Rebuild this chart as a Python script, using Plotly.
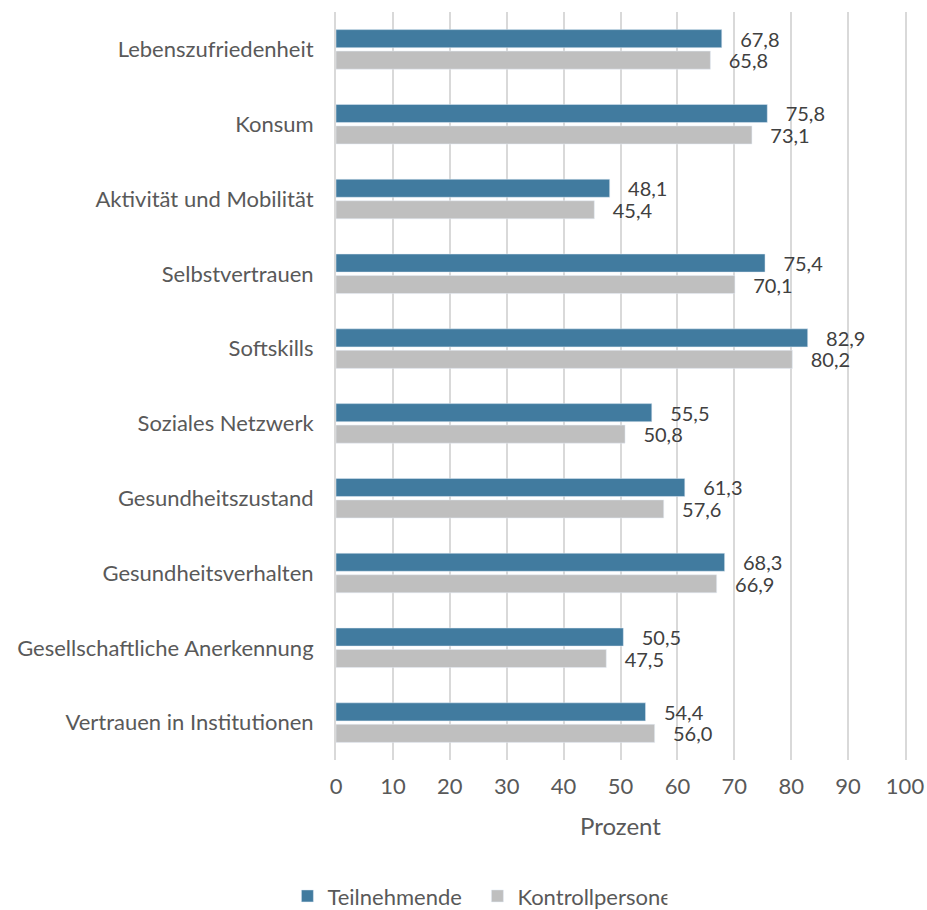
import plotly.graph_objects as go

categories = ["Lebenszufriedenheit", "Konsum", "Aktivität und Mobilität", "Selbstvertrauen",
              "Softskills", "Soziales Netzwerk", "Gesundheitszustand", "Gesundheitsverhalten",
              "Gesellschaftliche Anerkennung", "Vertrauen in Institutionen"]
teilnehmende = [67.8, 75.8, 48.1, 75.4, 82.9, 55.5, 61.3, 68.3, 50.5, 54.4]
kontrollpersonen = [65.8, 73.1, 45.4, 70.1, 80.2, 50.8, 57.6, 66.9, 47.5, 56.0]
x_ticks = list(range(0, 101, 10))

font_family = "Lato, 'Noto Sans', sans-serif"

fig = go.Figure()
fig.add_trace(go.Bar(
    y=categories, x=teilnehmende, orientation="h", name="Teilnehmende",
    marker=dict(color="#417b9f"),
    texttemplate="   %{x:.1f}", textposition="outside", constraintext="none",
    textfont=dict(color="#404040", size=20, family=font_family), cliponaxis=False,
))
fig.add_trace(go.Bar(
    y=categories, x=kontrollpersonen, orientation="h", name="Kontrollpersonen",
    marker=dict(color="#bfbfbf"),
    texttemplate="   %{x:.1f}", textposition="outside", constraintext="none",
    textfont=dict(color="#404040", size=20, family=font_family), cliponaxis=False,
))

fig.update_layout(
    width=927, height=910,
    margin=dict(l=336, r=22, t=12, b=150, autoexpand=False),
    barmode="group", bargap=0.425, bargroupgap=0.16,
    separators=",.",
    plot_bgcolor="white", paper_bgcolor="white",
    font=dict(family=font_family, size=22, color="#595959"),
    xaxis=dict(range=[0, 100], tickvals=x_ticks, showgrid=True, gridcolor="#d9d9d9",
               gridwidth=2, zeroline=False, ticks="", ticklabelstandoff=11, automargin=False,
               ticklabeloverflow="allow",
               title=dict(text="Prozent", font=dict(size=24, color="#595959"), standoff=20),
               tickfont=dict(size=22, color="#595959")),
    yaxis=dict(autorange="reversed", showgrid=False, ticks="", ticklabelstandoff=16,
               showline=True, mirror=True, linecolor="#d9d9d9", linewidth=2,
               automargin=False, tickfont=dict(size=22, color="#595959")),
    legend=dict(orientation="h", xref="container", yref="paper", x=0.515, xanchor="center",
                y=-0.182, yanchor="middle", font=dict(size=22, color="#595959"),
                traceorder="normal", itemwidth=30, entrywidth=145),
    showlegend=True,
)

# remove the default page margin so the figure fills the window exactly
fig.write_html("out.html", config={"displayModeBar": False},
               post_script="document.body.style.margin='0';document.body.style.overflow='hidden';")
